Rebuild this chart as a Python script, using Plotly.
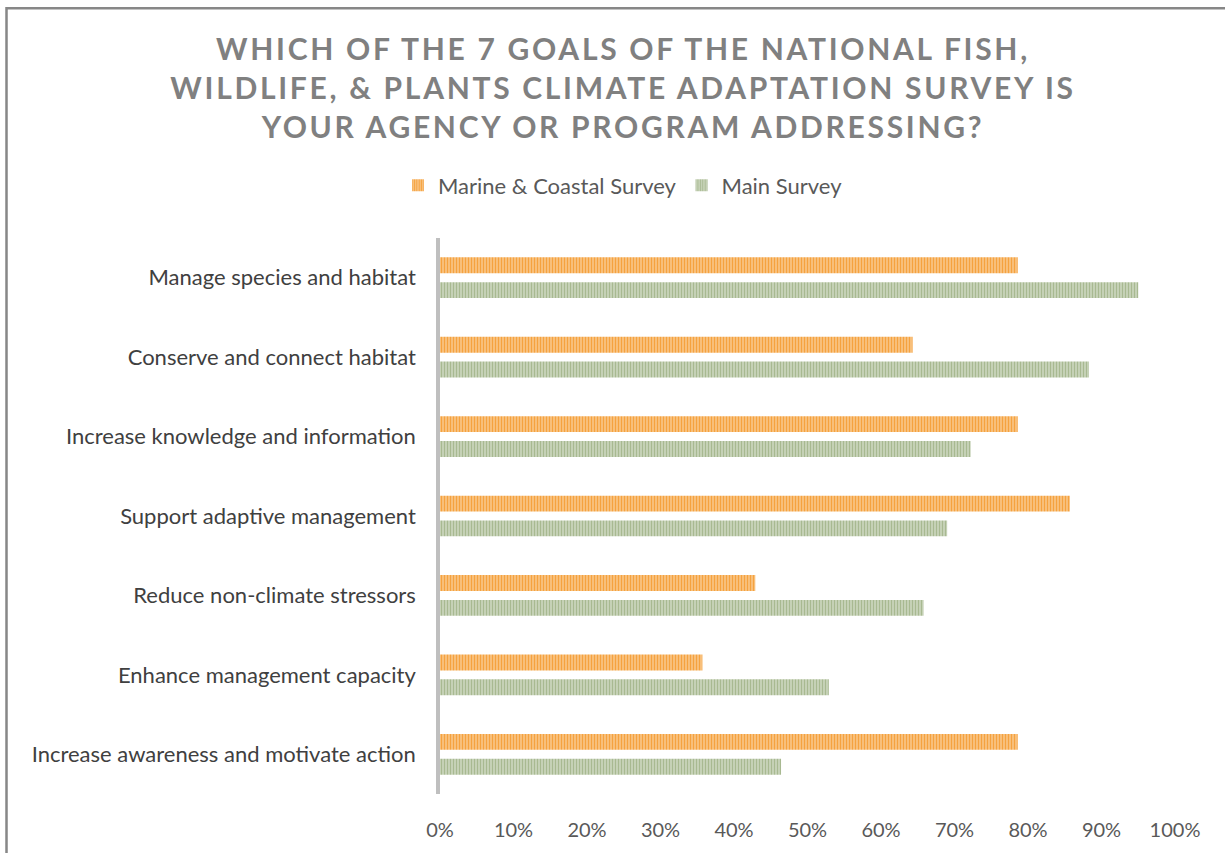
import plotly.graph_objects as go

# Survey goals (top to bottom) and share of respondents addressing each
goals = [
    "Manage species and habitat",
    "Conserve and connect habitat",
    "Increase knowledge and information",
    "Support adaptive management",
    "Reduce non-climate stressors",
    "Enhance management capacity",
    "Increase awareness and motivate action",
]
marine_coastal = [0.786, 0.643, 0.786, 0.857, 0.429, 0.357, 0.786]
main_survey = [0.950, 0.883, 0.722, 0.690, 0.658, 0.529, 0.464]
x_ticks = [i / 10 for i in range(11)]
x_tick_labels = [f"{i * 10}%" for i in range(11)]

title_lines = [
    "WHICH OF THE 7 GOALS OF THE NATIONAL FISH,",
    "WILDLIFE, & PLANTS CLIMATE ADAPTATION SURVEY IS",
    "YOUR AGENCY OR PROGRAM ADDRESSING?",
]

FONT = "Lato"
TEXT_GREY = "#595959"

W, H = 1225, 853
M_L, M_R, M_T, M_B = 440, 50, 238, 55

fig = go.Figure()
fig.add_trace(go.Bar(
    name="Marine & Coastal Survey",
    y=goals, x=marine_coastal, orientation="h",
    marker=dict(
        color="#F9C98D",
        line=dict(width=0),
        pattern=dict(shape="|", fgcolor="#F5A23F", bgcolor="#F9C98D",
                     size=3, solidity=0.5, fillmode="replace"),
    ),
))
fig.add_trace(go.Bar(
    name="Main Survey",
    y=goals, x=main_survey, orientation="h",
    marker=dict(
        color="#CFD9C3",
        line=dict(width=0),
        pattern=dict(shape="|", fgcolor="#A8B991", bgcolor="#CFD9C3",
                     size=3, solidity=0.5, fillmode="replace"),
    ),
))

# outer chart frame (left and top edges visible)
pw, ph = W - M_L - M_R, H - M_T - M_B
fx0 = (6.5 - M_L) / pw
fy1 = 1 + (M_T - 6.5) / ph
fig.add_shape(type="rect", xref="paper", yref="paper",
              x0=fx0, x1=2, y0=-1, y1=fy1,
              line=dict(color="#878787", width=2.5),
              fillcolor="rgba(0,0,0,0)", layer="below")

title_html = "<br>".join(
    f'<span style="letter-spacing:2.7px">{t}</span>' for t in title_lines
)

fig.update_layout(
    width=W, height=H,
    margin=dict(l=M_L, r=M_R, t=M_T, b=M_B),
    paper_bgcolor="white", plot_bgcolor="white",
    barmode="group", bargap=0.375, bargroupgap=0.36,
    font=dict(family=FONT, size=22, color=TEXT_GREY),
    title=dict(
        text=title_html,
        x=623 / W, xref="container", xanchor="center",
        y=1 - 60 / H, yref="container", yanchor="top",
        font=dict(family=FONT, size=30, color="#808080", weight="bold"),
    ),
    legend=dict(
        orientation="h", x=(623 - M_L) / pw, xanchor="center",
        y=1 + (M_T - 185) / ph, yanchor="middle",
        font=dict(family=FONT, size=22, color=TEXT_GREY),
        traceorder="normal",
    ),
    showlegend=True,
)

fig.update_xaxes(
    range=[0, 1], tickvals=x_ticks, ticktext=x_tick_labels,
    showgrid=False, zeroline=False, showline=False,
    ticks="", ticklabelstandoff=22,
    tickfont=dict(family=FONT, size=20, color=TEXT_GREY),
    fixedrange=True,
)
fig.update_yaxes(
    autorange="reversed",
    showgrid=False, zeroline=False,
    showline=True, linecolor="#BFBFBF", linewidth=3.5,
    ticks="", ticklabelstandoff=16,
    tickfont=dict(family=FONT, size=22, color="#404040"),
    fixedrange=True,
)

fig.write_html("out.html", config={"displayModeBar": False})
